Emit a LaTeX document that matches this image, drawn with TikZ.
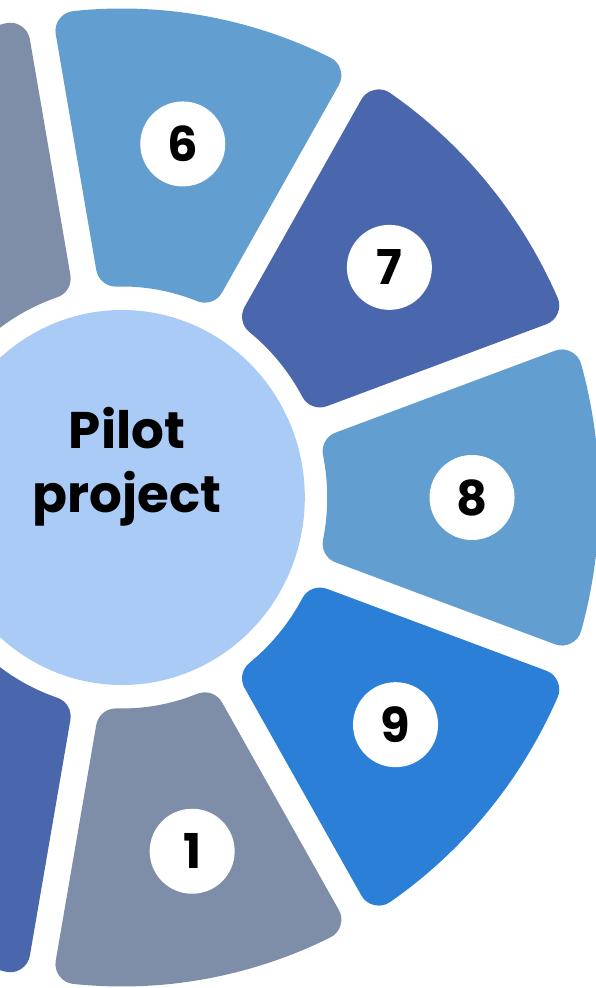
\documentclass[tikz,border=0pt]{standalone}
\usepackage{fontspec}
\setmainfont{Poppins}

\definecolor{segGray}{HTML}{7F8EA8}
\definecolor{segLight}{HTML}{629ED0}
\definecolor{segDark}{HTML}{4A67AD}
\definecolor{segBright}{HTML}{2B7FD6}
\definecolor{hubBlue}{HTML}{ABCBF7}

\tikzset{
  segment/.style={line width=40pt, line join=round},
  numdot/.style={circle, fill=white, minimum size=85pt, inner sep=0pt,
    font=\fontsize{48}{48}\selectfont\bfseries},
}

\begin{document}
\begin{tikzpicture}[x=1pt,y=1pt]
  \useasboundingbox (0,0) rectangle (596,988);
  \clip (0,0) rectangle (596,988);

  \begin{scope}[shift={(122,490.5)}, xscale=0.975]
    % Hub in the middle
    \fill[hubBlue] (0,0) circle[radius=187.5];

    % Ring of segments: shrunk by the corner radius, grown back by the
    % thick round-joined outline
    \pgfmathsetmacro{\ao}{20-asin(34/469)}
    \pgfmathsetmacro{\ai}{20-asin(34/231)}
    \foreach \a/\c in {120/segGray, 80/segLight, 40/segDark, 0/segLight,
                       -40/segBright, -80/segGray, -120/segDark}
      \filldraw[segment, fill=\c, draw=\c]
        (\a+\ao:469) arc[start angle=\a+\ao, end angle=\a-\ao, radius=469]
        -- (\a-\ai:231) arc[start angle=\a-\ai, end angle=\a+\ai, radius=231]
        -- cycle;

    % Numbered dots
    \foreach \a/\r/\n in {80/359/6, 40/358/7, 0/359/8, -39/361/9, -78.5/361/1}
      \node[numdot] (n\n) at (\a:\r) {\n};
  \end{scope}

  % Title in the hub
  \node[align=center, font=\fontsize{51.5}{64}\selectfont\bfseries]
    (pilot) at (127,521.5) {Pilot\\project};
\end{tikzpicture}
\end{document}
